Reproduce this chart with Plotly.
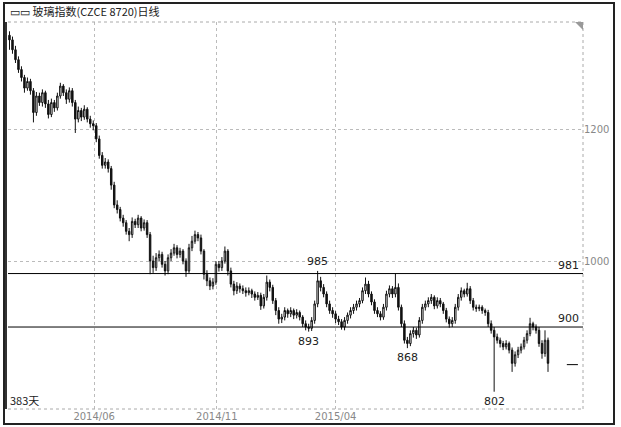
import plotly.graph_objects as go

# ---- data (one bar ~ two trading sessions) ----
opens = [1342,1335,1320,1305,1290,1278,1262,1272,1258,1225,
         1250,1240,1255,1238,1222,1240,1232,1250,1265,1255,
         1245,1258,1240,1215,1228,1218,1230,1215,1208,1205,
         1185,1160,1145,1150,1140,1115,1085,1078,1065,1058,
         1045,1040,1060,1055,1065,1050,1058,1040,1000,990,
         1005,1010,995,985,1005,1012,1020,1010,1015,1000,
         985,1020,1030,1040,1035,1015,980,970,962,968,
         995,990,1000,1015,985,965,955,962,958,955,
         952,955,950,945,948,932,945,968,960,940,
         925,912,915,925,920,925,918,922,915,905,
         900,898,910,935,970,960,950,935,925,920,
         912,908,900,910,918,925,930,935,940,955,
         965,950,938,925,920,915,930,950,958,950,
         960,930,905,880,875,890,895,888,910,930,
         935,940,945,932,940,935,925,912,905,910,
         930,945,955,950,958,940,930,928,930,925,
         922,905,895,885,880,875,870,875,865,845,
         858,865,870,880,890,905,900,895,875,860,
         880]
highs = [1348,1340,1326,1310,1295,1282,1278,1276,1262,1256,
         1255,1260,1258,1244,1246,1244,1255,1270,1268,1260,
         1263,1262,1244,1234,1232,1236,1233,1220,1213,1209,
         1190,1165,1156,1154,1144,1120,1092,1082,1070,1062,
         1050,1066,1064,1070,1068,1063,1062,1044,1008,1012,
         1016,1014,1000,1010,1018,1026,1024,1020,1018,1004,
         1026,1038,1046,1044,1040,1018,986,975,974,1000,
         1000,1006,1022,1018,990,970,968,966,963,960,
         960,958,954,953,952,950,978,972,964,944,
         930,920,930,928,930,928,927,925,918,910,
         905,915,940,985,976,965,954,940,930,924,
         917,912,915,922,930,935,940,944,960,975,
         970,954,942,930,924,935,955,963,962,981,
         966,934,910,885,895,900,899,915,935,940,
         945,950,948,945,944,938,929,916,915,935,
         950,960,958,967,962,944,934,934,933,928,
         926,910,900,890,884,879,880,878,869,863,
         870,875,885,895,914,908,904,900,880,895,
         884]
lows = [1320,1314,1300,1285,1272,1255,1258,1252,1210,1220,
        1235,1234,1232,1216,1218,1226,1228,1246,1250,1238,
        1240,1234,1194,1210,1212,1214,1210,1202,1198,1180,
        1155,1140,1140,1134,1108,1080,1072,1060,1052,1040,
        1030,1035,1050,1050,1045,1046,1035,980,982,985,
        1000,990,978,980,1000,1008,1004,1005,995,976,
        982,1015,1026,1030,1010,972,962,956,957,964,
        984,985,996,978,960,948,950,952,950,946,
        948,944,940,941,926,928,940,954,935,918,
        905,906,910,914,915,912,913,910,900,895,
        893,894,905,930,954,945,930,920,914,906,
        903,896,895,905,913,920,925,930,936,950,
        945,933,920,915,910,911,925,945,944,945,
        925,900,875,868,871,884,882,884,905,925,
        930,935,927,928,930,920,907,899,900,905,
        925,940,945,946,935,925,923,924,920,917,
        900,890,802,875,869,865,866,860,832,840,
        853,860,866,875,886,895,890,870,852,855,
        832]
closes = [1335,1320,1305,1290,1278,1262,1272,1258,1225,1250,
          1240,1255,1238,1222,1240,1232,1250,1265,1255,1245,
          1258,1240,1215,1228,1218,1230,1215,1208,1205,1185,
          1160,1145,1150,1140,1115,1085,1078,1065,1058,1045,
          1040,1060,1055,1065,1050,1058,1040,1000,990,1005,
          1010,995,985,1005,1012,1020,1010,1015,1000,985,
          1020,1030,1040,1035,1015,980,970,962,968,995,
          990,1000,1015,985,965,955,962,958,955,952,
          955,950,945,948,932,945,968,960,940,925,
          912,915,925,920,925,918,922,915,905,900,
          898,910,935,970,960,950,935,925,920,912,
          908,900,910,918,925,930,935,940,955,965,
          950,938,925,920,915,930,950,958,950,960,
          930,905,880,875,890,895,888,910,930,935,
          940,945,932,940,935,925,912,905,910,930,
          945,955,950,958,940,930,928,930,925,922,
          905,895,885,880,875,870,875,865,845,858,
          865,870,880,890,905,900,895,875,860,880,
          845]

tick_pos = [28.3, 69.3, 109.0]
tick_text = ["2014/06", "2014/11", "2015/04"]
y_ticks = [1000, 1200]
level_lines = [981, 900]
marks = [(103, 985, "985", "top"), (100, 893, "893", "bottom"),
         (133, 868, "868", "bottom"), (162, 802, "802", "bottom")]
last_marker = 843
day_count = "383天"
title = "玻璃指数(CZCE 8720)日线"

W, H = 621, 427
x_left, x_right = 8, 583
y_top, y_bot = 22, 409

def px(x):
    return x / W

def py(y):
    return 1 - y / H

idx = list(range(len(closes)))

fig = go.Figure()
fig.add_trace(go.Candlestick(
    x=idx, open=opens, high=highs, low=lows, close=closes,
    increasing=dict(line=dict(color="#111111", width=1), fillcolor="#ffffff"),
    decreasing=dict(line=dict(color="#111111", width=1), fillcolor="#111111"),
    whiskerwidth=0, showlegend=False, hoverinfo="skip",
))

shapes = []
# outer frame
shapes.append(dict(type="rect", xref="paper", yref="paper",
                   x0=px(4), x1=px(614), y0=py(424), y1=py(3),
                   line=dict(color="#222222", width=2)))
# plot area dotted border (top, right, bottom)
for (x0, y0, x1, y1) in [(x_left, y_top, x_right, y_top),
                         (x_right, y_top, x_right, y_bot),
                         (x_left, y_bot, x_right, y_bot)]:
    shapes.append(dict(type="line", xref="paper", yref="paper",
                       x0=px(x0), y0=py(y0), x1=px(x1), y1=py(y1),
                       line=dict(color="#aaaaaa", width=1, dash="dot")))
# left solid edge
shapes.append(dict(type="line", xref="paper", yref="paper",
                   x0=px(6), y0=py(y_top), x1=px(6), y1=py(y_bot),
                   line=dict(color="#333333", width=2)))
# small corner triangle
shapes.append(dict(type="path", xref="paper", yref="paper",
                   path=f"M {px(575)} {py(22)} L {px(583)} {py(22)} L {px(583)} {py(30)} Z",
                   fillcolor="#999999", line=dict(width=0)))
# support / resistance lines
for lv in level_lines:
    shapes.append(dict(type="line", xref="paper", yref="y",
                       x0=px(x_left), x1=px(x_right), y0=lv, y1=lv,
                       line=dict(color="#000000", width=1)))
# last price marker
shapes.append(dict(type="line", xref="x", yref="y",
                   x0=186.3, x1=190.0, y0=last_marker, y1=last_marker,
                   line=dict(color="#000000", width=1)))

ann = []
font_num = dict(family="DejaVu Sans", size=11, color="#222222")
for (i, v, t, pos) in marks:
    ann.append(dict(x=i, y=v, xref="x", yref="y", text=t, showarrow=False,
                    yanchor="bottom" if pos == "top" else "top",
                    yshift=1 if pos == "top" else -1, font=font_num))
for lv in level_lines:
    ann.append(dict(x=px(581), y=lv, xref="paper", yref="y", text=str(lv),
                    showarrow=False, xanchor="right", yanchor="bottom",
                    yshift=0, font=font_num))
ann.append(dict(x=px(8), y=py(400), xref="paper", yref="paper", text=day_count,
                showarrow=False, xanchor="left", yanchor="middle",
                font=dict(family="Noto Sans CJK SC", size=11, color="#222222")))
ann.append(dict(x=px(8), y=py(11), xref="paper", yref="paper",
                text="▭▭ " + title,
                showarrow=False, xanchor="left", yanchor="middle",
                font=dict(family="Noto Sans CJK SC", size=11, color="#222222")))

fig.update_layout(
    width=W, height=H,
    margin=dict(l=0, r=0, t=0, b=0),
    paper_bgcolor="white", plot_bgcolor="white",
    shapes=shapes, annotations=ann,
    xaxis=dict(domain=[px(x_left), px(x_right)], range=[-0.5, 191.7],
               rangeslider=dict(visible=False),
               tickmode="array", tickvals=tick_pos, ticktext=tick_text,
               showgrid=True, gridcolor="#bbbbbb", griddash="dot", gridwidth=1,
               zeroline=False, showline=False, ticks="",
               tickfont=dict(family="DejaVu Sans", size=10, color="#888888"),
               fixedrange=True),
    yaxis=dict(domain=[py(y_bot), py(y_top)], range=[775.8, 1362.1],
               side="right", tickmode="array", tickvals=y_ticks,
               ticktext=[str(v) for v in y_ticks],
               showgrid=True, gridcolor="#bbbbbb", griddash="dot", gridwidth=1,
               zeroline=False, showline=False, ticks="",
               tickfont=dict(family="DejaVu Sans", size=10, color="#888888"),
               fixedrange=True),
)

fig.write_html("out.html", config={"displayModeBar": False},
               post_script="document.body.style.margin='0';document.body.style.overflow='hidden';")
